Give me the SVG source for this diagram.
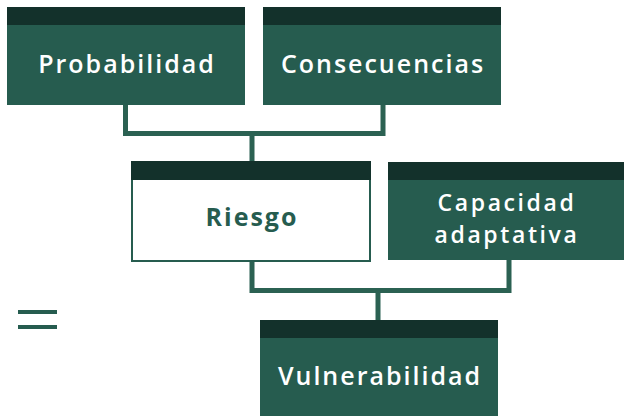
<svg xmlns="http://www.w3.org/2000/svg" width="624" height="416" viewBox="0 0 624 416">
<style>
.box{fill:#265C4F}
.band{fill:#13312B}
.lbl{font-family:"Open Sans","Liberation Sans",sans-serif;font-weight:600;font-size:25px;letter-spacing:2px;text-anchor:middle;fill:#ffffff}
.lbl.g{fill:#265C4F;font-weight:700}
.lbl.s{font-size:23px;letter-spacing:2.6px}
.conn{fill:none;stroke:#2B6152;stroke-width:5}
</style>
<rect width="624" height="416" fill="#ffffff"/>
<g id="connectors">
<polyline class="conn" points="125.5,105 125.5,133.5 252,133.5 252,162"/>
<polyline class="conn" points="383,105 383,133.5 252,133.5"/>
<polyline class="conn" points="252,262 252,290.5 509,290.5 509,260"/>
<polyline class="conn" points="378,290.5 378,320"/>
</g>
<g id="probabilidad">
<rect class="box" x="7" y="7" width="238" height="98"/>
<rect class="band" x="7" y="7" width="238" height="18"/>
<text class="lbl" x="127" y="73">Probabilidad</text>
</g>
<g id="consecuencias">
<rect class="box" x="263" y="7" width="238" height="98"/>
<rect class="band" x="263" y="7" width="238" height="18"/>
<text class="lbl" x="383" y="73">Consecuencias</text>
</g>
<g id="riesgo">
<rect x="132" y="162" width="238" height="99" fill="#ffffff" stroke="#265C4F" stroke-width="2"/>
<rect class="band" x="131" y="161" width="240" height="19"/>
<text class="lbl g" x="252" y="226">Riesgo</text>
</g>
<g id="capacidad">
<rect class="box" x="388" y="162" width="236" height="98"/>
<rect class="band" x="388" y="162" width="236" height="18"/>
<text class="lbl s"><tspan x="507" y="211">Capacidad</tspan><tspan x="507" y="243">adaptativa</tspan></text>
</g>
<g id="vulnerabilidad">
<rect class="box" x="260" y="320" width="238" height="96"/>
<rect class="band" x="260" y="320" width="238" height="18"/>
<text class="lbl" x="380" y="385">Vulnerabilidad</text>
</g>
<g id="equals">
<rect class="box" x="18" y="310" width="39" height="4"/>
<rect class="box" x="18" y="325" width="39" height="4"/>
</g>
</svg>
